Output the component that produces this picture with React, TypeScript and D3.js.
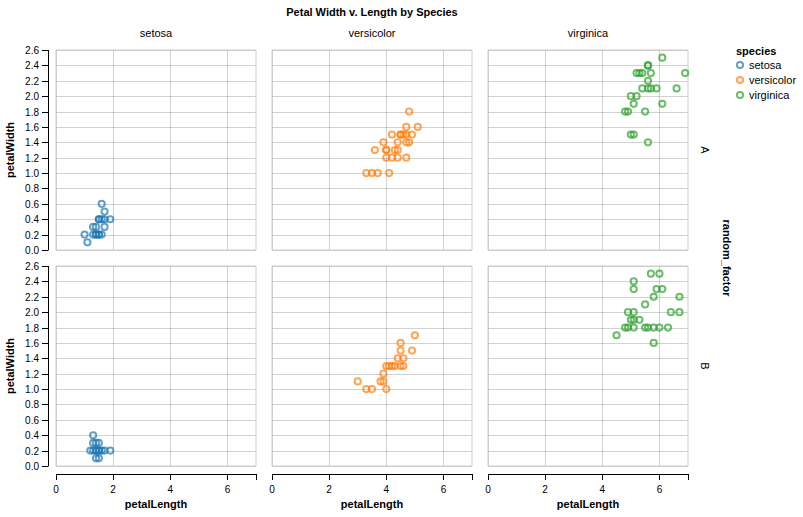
import * as d3 from "d3";

// [petalLength, petalWidth] per species / random_factor cell
const setosaA: [number, number][] = [
  [1.6, 0.6], [1.7, 0.5],
  [1.5, 0.4], [1.5, 0.4], [1.6, 0.4], [1.7, 0.4], [1.9, 0.4],
  [1.3, 0.3], [1.4, 0.3], [1.7, 0.3],
  [1.0, 0.2], [1.3, 0.2], [1.4, 0.2], [1.4, 0.2], [1.5, 0.2], [1.5, 0.2], [1.6, 0.2],
  [1.1, 0.1],
];
const setosaB: [number, number][] = [
  [1.3, 0.4],
  [1.3, 0.3], [1.4, 0.3], [1.5, 0.3],
  [1.2, 0.2], [1.3, 0.2], [1.4, 0.2], [1.4, 0.2], [1.5, 0.2], [1.5, 0.2], [1.6, 0.2], [1.7, 0.2], [1.9, 0.2],
  [1.4, 0.1], [1.5, 0.1],
];
const versicolorA: [number, number][] = [
  [4.8, 1.8], [4.7, 1.6], [5.1, 1.6],
  [4.2, 1.5], [4.5, 1.5], [4.5, 1.5], [4.6, 1.5], [4.7, 1.5], [4.9, 1.5],
  [3.9, 1.4], [4.4, 1.4], [4.7, 1.4], [4.8, 1.4],
  [3.6, 1.3], [4.0, 1.3], [4.0, 1.3], [4.3, 1.3], [4.4, 1.3],
  [4.0, 1.2], [4.2, 1.2], [4.4, 1.2], [4.7, 1.2],
  [3.3, 1.0], [3.5, 1.0], [3.7, 1.0], [4.1, 1.0],
];
const versicolorB: [number, number][] = [
  [5.0, 1.7], [4.5, 1.6],
  [4.5, 1.5], [4.9, 1.5],
  [4.4, 1.4], [4.6, 1.4],
  [4.0, 1.3], [4.1, 1.3], [4.2, 1.3], [4.3, 1.3], [4.5, 1.3], [4.6, 1.3],
  [3.9, 1.2],
  [3.0, 1.1], [3.8, 1.1], [3.9, 1.1],
  [3.3, 1.0], [3.5, 1.0], [4.0, 1.0],
];
const virginicaA: [number, number][] = [
  [6.1, 2.5], [5.6, 2.4], [5.6, 2.4],
  [5.2, 2.3], [5.3, 2.3], [5.4, 2.3], [5.7, 2.3], [6.9, 2.3],
  [5.6, 2.2],
  [5.4, 2.1], [5.6, 2.1], [5.7, 2.1], [5.9, 2.1], [6.6, 2.1],
  [5.0, 2.0], [5.2, 2.0],
  [5.1, 1.9], [6.1, 1.9],
  [4.8, 1.8], [4.9, 1.8], [5.5, 1.8],
  [5.0, 1.5], [5.1, 1.5],
  [5.6, 1.4],
];
const virginicaB: [number, number][] = [
  [5.7, 2.5], [6.0, 2.5], [5.1, 2.4],
  [5.1, 2.3], [5.9, 2.3], [6.1, 2.3],
  [5.8, 2.2], [6.7, 2.2],
  [5.5, 2.1],
  [4.9, 2.0], [5.1, 2.0], [6.4, 2.0], [6.7, 2.0],
  [5.0, 1.9], [5.1, 1.9], [5.3, 1.9],
  [4.8, 1.8], [4.9, 1.8], [5.1, 1.8], [5.5, 1.8], [5.6, 1.8], [5.8, 1.8], [6.0, 1.8], [6.3, 1.8],
  [4.5, 1.7], [5.8, 1.6],
];

const species = ["setosa", "versicolor", "virginica"];
const factors = ["A", "B"];
const cells: Record<string, [number, number][]> = {
  "setosa|A": setosaA, "setosa|B": setosaB,
  "versicolor|A": versicolorA, "versicolor|B": versicolorB,
  "virginica|A": virginicaA, "virginica|B": virginicaB,
};
const xTicks = [0, 2, 4, 6];
const yTicks = d3.range(0, 2.61, 0.2);

const W = 200, H = 200, GAP = 16, LEFT = 56, TOP = 50;
const FONT = "'Liberation Sans', Arial, Helvetica, sans-serif";

export default function App() {
  const x = d3.scaleLinear().domain([0, 7]).range([0, W]);
  const y = d3.scaleLinear().domain([0, 2.6]).range([H, 0]);
  const color = d3.scaleOrdinal<string, string>().domain(species).range(d3.schemeCategory10);
  const colX = (i: number) => LEFT + i * (W + GAP);
  const rowY = (j: number) => TOP + j * (H + GAP);
  const fmt = d3.format(".1f");
  const r = Math.sqrt(30 / Math.PI);
  const totalW = 3 * W + 2 * GAP;

  return (
    <svg width={803} height={517} style={{ position: "absolute", left: 0, top: 0 }} fontFamily={FONT}>
      <text x={LEFT + totalW / 2} y={16} textAnchor="middle" fontSize={11} fontWeight="bold">
        Petal Width v. Length by Species
      </text>
      {species.map((s, i) => (
        <text key={s} x={colX(i) + W / 2} y={37} textAnchor="middle" fontSize={11}>{s}</text>
      ))}
      {factors.map((f, j) => (
        <g key={f}>
          <text transform={`translate(701,${rowY(j) + H / 2}) rotate(90)`} textAnchor="middle" fontSize={11}>{f}</text>
          {/* y axis */}
          <g transform={`translate(${LEFT - 8},${rowY(j)})`}>
            <line x1={0.5} x2={0.5} y1={0} y2={H} stroke="#000" />
            {yTicks.map((t) => (
              <g key={t} transform={`translate(0,${Math.round(y(t)) + 0.5})`}>
                <line x1={-6} x2={0.5} stroke="#000" />
                <text x={-9} dy="0.32em" textAnchor="end" fontSize={10}>{fmt(t)}</text>
              </g>
            ))}
          </g>
          <text transform={`translate(14,${rowY(j) + H / 2}) rotate(-90)`} textAnchor="middle" fontSize={11} fontWeight="bold">
            petalWidth
          </text>
        </g>
      ))}
      <text transform={`translate(723,${TOP + H + GAP / 2}) rotate(90)`} textAnchor="middle" fontSize={11} fontWeight="bold">
        random_factor
      </text>
      {species.map((s, i) =>
        factors.map((f, j) => (
          <g key={s + f} transform={`translate(${colX(i)},${rowY(j)})`}>
            <rect width={W} height={H} fill="#fff" />
            {xTicks.map((t) => (
              <line key={"gx" + t} x1={Math.round(x(t)) + 0.5} x2={Math.round(x(t)) + 0.5} y1={0} y2={H} stroke="#000" strokeOpacity={0.18} />
            ))}
            {yTicks.map((t) => (
              <line key={"gy" + t} x1={0} x2={W} y1={Math.round(y(t)) + 0.5} y2={Math.round(y(t)) + 0.5} stroke="#000" strokeOpacity={0.18} />
            ))}
            <rect width={W} height={H} fill="none" stroke="#ccc" strokeWidth={1} />
            {cells[s + "|" + f].map((d, k) => (
              <circle key={k} cx={x(d[0])} cy={y(d[1])} r={r} fill="none" stroke={color(s)} strokeWidth={2} strokeOpacity={0.7} />
            ))}
          </g>
        ))
      )}
      {species.map((s, i) => (
        <g key={"xa" + s} transform={`translate(${colX(i)},${rowY(1) + H + 8})`}>
          <line x1={0} x2={W} y1={0.5} y2={0.5} stroke="#000" />
          {[...xTicks, 7].map((t) => (
            <line key={t} x1={Math.round(x(t)) + 0.5} x2={Math.round(x(t)) + 0.5} y1={0} y2={6} stroke="#000" />
          ))}
          {xTicks.map((t) => (
            <text key={"l" + t} x={x(t)} y={19} textAnchor="middle" fontSize={10}>{t}</text>
          ))}
          <text x={W / 2} y={34} textAnchor="middle" fontSize={11} fontWeight="bold">petalLength</text>
        </g>
      ))}
      <g transform="translate(736,0)">
        <text x={0} y={55} fontSize={11} fontWeight="bold">species</text>
        {species.map((s, i) => (
          <g key={s} transform={`translate(4,${65 + i * 15})`}>
            <circle r={r} fill="none" stroke={color(s)} strokeWidth={2} strokeOpacity={0.7} />
            <text x={9} dy="0.32em" fontSize={11}>{s}</text>
          </g>
        ))}
      </g>
    </svg>
  );
}
